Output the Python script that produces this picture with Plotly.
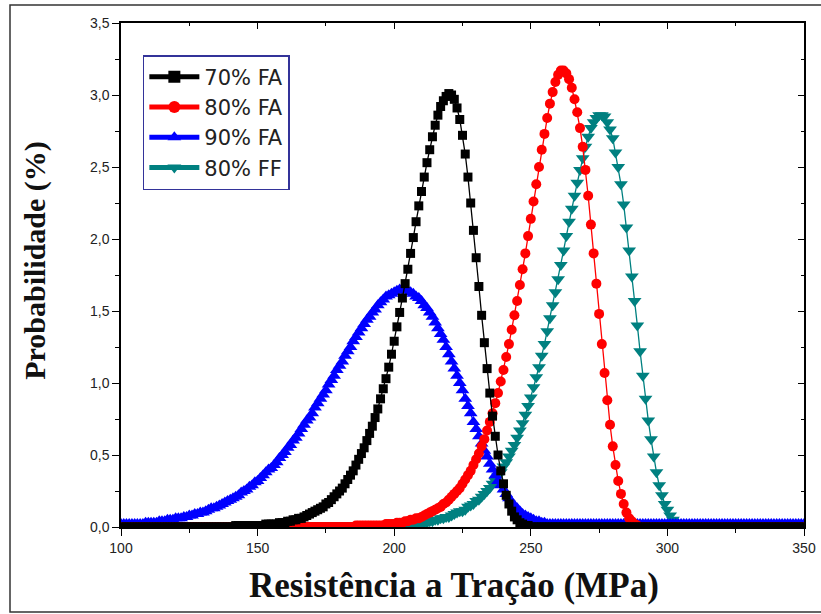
import plotly.graph_objects as go

# x grid: tensile strength (MPa), one point per MPa
resistencia = list(range(100, 351))

# 70% FA (black squares)
prob_70fa = (
    [0.0] * 40 +                                                              # 100-139
    [0.0, 0.0, 0.01, 0.01, 0.01, 0.01, 0.01, 0.01, 0.01, 0.01] +              # 140-149
    [0.01, 0.01, 0.01, 0.02, 0.02, 0.02, 0.02, 0.02, 0.03, 0.03] +            # 150-159
    [0.03, 0.04, 0.04, 0.05, 0.05, 0.06, 0.06, 0.07, 0.08, 0.09] +            # 160-169
    [0.10, 0.11, 0.12, 0.13, 0.14, 0.16, 0.17, 0.19, 0.21, 0.23] +            # 170-179
    [0.25, 0.27, 0.30, 0.33, 0.36, 0.39, 0.43, 0.47, 0.51, 0.55] +            # 180-189
    [0.60, 0.65, 0.70, 0.76, 0.82, 0.89, 0.96, 1.03, 1.11, 1.20] +            # 190-199
    [1.29, 1.39, 1.49, 1.59, 1.69, 1.79, 1.90, 2.01, 2.12, 2.23] +            # 200-209
    [2.33, 2.43, 2.53, 2.62, 2.71, 2.79, 2.86, 2.92, 2.96, 2.99] +            # 210-219
    [3.01, 3.00, 2.97, 2.91, 2.83, 2.72, 2.59, 2.43, 2.25, 2.06] +            # 220-229
    [1.87, 1.67, 1.47, 1.28, 1.10, 0.93, 0.77, 0.63, 0.50, 0.39] +            # 230-239
    [0.30, 0.22, 0.16, 0.11, 0.07, 0.05, 0.03, 0.02, 0.01, 0.01] +            # 240-249
    [0.0] * 101                                                               # 250-350
)

# 80% FA (red circles)
prob_80fa = (
    [0.0] * 80 +                                                              # 100-179
    [0.0, 0.0, 0.0, 0.0, 0.0, 0.0, 0.01, 0.01, 0.01, 0.01] +                  # 180-189
    [0.01, 0.01, 0.01, 0.01, 0.01, 0.01, 0.01, 0.02, 0.02, 0.02] +            # 190-199
    [0.02, 0.03, 0.03, 0.03, 0.04, 0.04, 0.05, 0.05, 0.06, 0.06] +            # 200-209
    [0.07, 0.08, 0.09, 0.10, 0.11, 0.12, 0.13, 0.14, 0.16, 0.17] +            # 210-219
    [0.19, 0.21, 0.23, 0.25, 0.27, 0.30, 0.33, 0.36, 0.39, 0.43] +            # 220-229
    [0.47, 0.51, 0.56, 0.61, 0.67, 0.73, 0.79, 0.86, 0.93, 1.01] +            # 230-239
    [1.09, 1.18, 1.27, 1.37, 1.47, 1.57, 1.68, 1.79, 1.90, 2.02] +            # 240-249
    [2.14, 2.26, 2.38, 2.50, 2.62, 2.73, 2.84, 2.94, 3.02, 3.09] +            # 250-259
    [3.14, 3.17, 3.17, 3.15, 3.11, 3.05, 2.97, 2.88, 2.77, 2.64] +            # 260-269
    [2.48, 2.30, 2.10, 1.90, 1.69, 1.48, 1.27, 1.07, 0.88, 0.71] +            # 270-279
    [0.56, 0.43, 0.32, 0.23, 0.16, 0.10, 0.06, 0.04, 0.02, 0.01] +            # 280-289
    [0.0] * 61                                                                # 290-350
)

# 90% FA (blue up-triangles)
prob_90fa = (
    [0.02, 0.02, 0.02, 0.02, 0.02, 0.02, 0.02, 0.02, 0.02, 0.03] +            # 100-109
    [0.03, 0.03, 0.03, 0.03, 0.04, 0.04, 0.04, 0.05, 0.05, 0.05] +            # 110-119
    [0.06, 0.06, 0.06, 0.07, 0.07, 0.08, 0.08, 0.09, 0.09, 0.10] +            # 120-129
    [0.10, 0.11, 0.12, 0.13, 0.13, 0.14, 0.15, 0.16, 0.17, 0.18] +            # 130-139
    [0.19, 0.20, 0.21, 0.22, 0.24, 0.25, 0.26, 0.28, 0.29, 0.31] +            # 140-149
    [0.32, 0.34, 0.36, 0.38, 0.40, 0.41, 0.43, 0.45, 0.48, 0.50] +            # 150-159
    [0.52, 0.55, 0.57, 0.60, 0.62, 0.65, 0.68, 0.71, 0.74, 0.76] +            # 160-169
    [0.79, 0.83, 0.86, 0.89, 0.92, 0.95, 0.99, 1.02, 1.05, 1.09] +            # 170-179
    [1.12, 1.15, 1.19, 1.22, 1.25, 1.29, 1.32, 1.35, 1.38, 1.41] +            # 180-189
    [1.44, 1.46, 1.49, 1.51, 1.54, 1.56, 1.58, 1.60, 1.61, 1.62] +            # 190-199
    [1.63, 1.64, 1.65, 1.65, 1.65, 1.64, 1.63, 1.62, 1.60, 1.59] +            # 200-209
    [1.57, 1.54, 1.52, 1.49, 1.46, 1.42, 1.38, 1.34, 1.30, 1.25] +            # 210-219
    [1.20, 1.15, 1.10, 1.05, 1.00, 0.95, 0.89, 0.84, 0.79, 0.73] +            # 220-229
    [0.68, 0.63, 0.58, 0.53, 0.49, 0.44, 0.40, 0.36, 0.32, 0.29] +            # 230-239
    [0.26, 0.23, 0.20, 0.17, 0.15, 0.13, 0.11, 0.09, 0.08, 0.07] +            # 240-249
    [0.06, 0.05, 0.04, 0.04, 0.03, 0.03, 0.02, 0.02, 0.02, 0.02] +            # 250-259
    [0.02] * 91                                                               # 260-350
)

# 80% FF (teal down-triangles)
prob_80ff = (
    [0.01] * 100 +                                                            # 100-199
    [0.01, 0.01, 0.01, 0.01, 0.02, 0.02, 0.02, 0.02, 0.02, 0.03] +            # 200-209
    [0.03, 0.03, 0.03, 0.04, 0.04, 0.05, 0.05, 0.06, 0.06, 0.07] +            # 210-219
    [0.07, 0.08, 0.09, 0.10, 0.11, 0.11, 0.12, 0.14, 0.15, 0.16] +            # 220-229
    [0.18, 0.19, 0.21, 0.23, 0.25, 0.27, 0.30, 0.32, 0.35, 0.38] +            # 230-239
    [0.42, 0.45, 0.49, 0.53, 0.57, 0.62, 0.67, 0.72, 0.78, 0.84] +            # 240-249
    [0.90, 0.97, 1.04, 1.11, 1.19, 1.27, 1.36, 1.45, 1.54, 1.63] +            # 250-259
    [1.72, 1.82, 1.92, 2.02, 2.12, 2.21, 2.30, 2.39, 2.48, 2.56] +            # 260-269
    [2.64, 2.71, 2.77, 2.81, 2.84, 2.86, 2.86, 2.85, 2.81, 2.76] +            # 270-279
    [2.70, 2.60, 2.50, 2.38, 2.24, 2.08, 1.92, 1.74, 1.57, 1.40] +            # 280-289
    [1.22, 1.05, 0.89, 0.74, 0.61, 0.49, 0.38, 0.29, 0.22, 0.16] +            # 290-299
    [0.12, 0.08, 0.05, 0.03, 0.02, 0.01, 0.01, 0.01, 0.01, 0.01] +            # 300-309
    [0.01] * 41                                                               # 310-350
)

series_names = ["70% FA", "80% FA", "90% FA", "80% FF"]
series_values = [prob_70fa, prob_80fa, prob_90fa, prob_80ff]
series_colors = ["#000000", "#ff0000", "#0000ff", "#008080"]
series_symbols = ["square", "circle", "triangle-up", "triangle-down"]
series_sizes = [9, 10, 12, 12]

x_ticks = [100, 150, 200, 250, 300, 350]
y_ticks = [0.0, 0.5, 1.0, 1.5, 2.0, 2.5, 3.0, 3.5]

for s in series_values:
    assert len(s) == len(resistencia)

fig = go.Figure()

# draw in reverse so black ends on top; legend order kept via legendrank
for i in reversed(range(4)):
    fig.add_trace(go.Scatter(
        x=resistencia, y=series_values[i], name=series_names[i],
        mode="lines+markers",
        line=dict(color=series_colors[i], width=1.3),
        marker=dict(symbol=series_symbols[i], size=series_sizes[i],
                    color=series_colors[i], line=dict(width=0)),
        legendrank=i + 1,
    ))

# dummy trace to bind the mirrored top/right axes
fig.add_trace(go.Scatter(x=[None], y=[None], xaxis="x2", yaxis="y2",
                         showlegend=False, hoverinfo="skip"))

tick_font = dict(family="Liberation Sans, Arial, sans-serif", size=14, color="#222222")

fig.update_layout(
    width=821, height=614,
    margin=dict(l=121, r=17, t=23, b=87, autoexpand=False),
    paper_bgcolor="white", plot_bgcolor="white",
    separators=", ",
    showlegend=True,
    legend=dict(
        x=0.032, y=0.9365, xanchor="left", yanchor="top",
        bgcolor="white", bordercolor="#333399", borderwidth=1.5,
        font=dict(family="DejaVu Sans, Arial, sans-serif", size=21, color="#222222"),
        tracegroupgap=0, itemsizing="constant", itemwidth=50,
    ),
    xaxis=dict(
        range=[100, 350], tickvals=x_ticks, ticks="outside", ticklen=7, tickwidth=1.3,
        tickcolor="black", showline=True, linecolor="black", linewidth=1.5,
        showgrid=False, zeroline=False, tickfont=tick_font, automargin=False,
        minor=dict(dtick=25, tick0=100, ticks="outside", ticklen=4, tickwidth=1.2, tickcolor="black"),
    ),
    yaxis=dict(
        range=[0, 3.5], tickvals=y_ticks, tickformat=".1f", ticks="outside", ticklen=7,
        tickwidth=1.3, tickcolor="black", showline=True, linecolor="black", linewidth=1.5,
        showgrid=False, zeroline=False, tickfont=tick_font, automargin=False,
        minor=dict(dtick=0.25, tick0=0, ticks="outside", ticklen=4, tickwidth=1.2, tickcolor="black"),
    ),
    xaxis2=dict(
        overlaying="x", side="top", anchor="y", range=[100, 350], tickvals=x_ticks,
        ticks="inside", ticklen=6, tickwidth=1.3, tickcolor="black", showticklabels=False,
        showline=True, linecolor="black", linewidth=1.5, showgrid=False, zeroline=False,
        automargin=False,
        minor=dict(dtick=25, tick0=100, ticks="inside", ticklen=3, tickwidth=1.2, tickcolor="black"),
    ),
    yaxis2=dict(
        overlaying="y", side="right", anchor="x", range=[0, 3.5], tickvals=y_ticks,
        ticks="inside", ticklen=6, tickwidth=1.3, tickcolor="black", showticklabels=False,
        showline=True, linecolor="black", linewidth=1.5, showgrid=False, zeroline=False,
        automargin=False,
        minor=dict(dtick=0.25, tick0=0, ticks="inside", ticklen=3, tickwidth=1.2, tickcolor="black"),
    ),
    annotations=[
        dict(text="<b>Probabilidade (%)</b>", xref="paper", yref="paper",
             x=-0.126, y=0.53, textangle=-90, showarrow=False,
             xanchor="center", yanchor="middle",
             font=dict(family="Liberation Serif, Times New Roman, serif", size=30, color="#111111")),
        dict(text="<b>Resistência a Tração (MPa)</b>", xref="paper", yref="paper",
             x=0.487, y=-0.117, showarrow=False, xanchor="center", yanchor="middle",
             font=dict(family="Liberation Serif, Times New Roman, serif", size=35, color="#111111")),
    ],
    shapes=[
        dict(type="rect", xref="paper", yref="paper",
             x0=(10 - 121) / 683, x1=(822 - 121) / 683,
             y0=(527 - 612) / 504, y1=(527 - 5) / 504,
             line=dict(color="#333333", width=1.5), fillcolor="rgba(0,0,0,0)", layer="below"),
    ],
)

fig.write_html("out.html")
